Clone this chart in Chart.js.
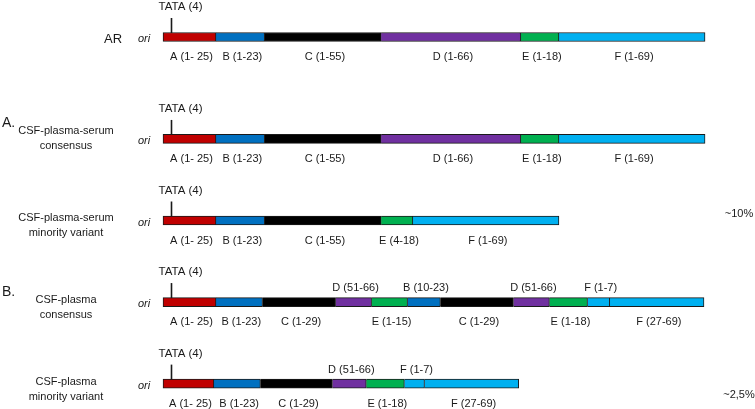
<!DOCTYPE html>
<html>
<head>
<meta charset="utf-8">
<script src="https://cdn.jsdelivr.net/npm/chart.js@4.4.0/dist/chart.umd.min.js"></script>
<style>
  html, body { margin: 0; padding: 0; background: #fff; }
  #wrap { width: 755px; height: 409px; }
</style>
</head>
<body>
<div id="wrap"><canvas id="genome" width="755" height="409"></canvas></div>
<script>
'use strict';

// ---- Data: genome segments (length in residues as drawn) ----
const arNames   = ['A', 'B', 'C', 'D', 'E', 'F'];
const arLengths = [25, 23, 55, 66, 18, 69];
const arLabels  = ['A (1- 25)', 'B (1-23)', 'C (1-55)', 'D (1-66)', 'E (1-18)', 'F (1-69)'];

const aMinNames   = ['A', 'B', 'C', 'E', 'F'];
const aMinLengths = [25, 23, 55, 15, 69];
const aMinLabels  = ['A (1- 25)', 'B (1-23)', 'C (1-55)', 'E (4-18)', 'F (1-69)'];

const bConsNames   = ['A', 'B', 'C', 'D', 'E', 'B', 'C', 'D', 'E', 'F', 'F'];
const bConsLengths = [25, 22, 34.5, 17, 17, 15.5, 34.5, 17, 18, 10.5, 44.5];
const bConsLabels  = ['A (1- 25)', 'B (1-23)', 'C (1-29)', 'D (51-66)', 'E (1-15)', 'B (10-23)',
                      'C (1-29)', 'D (51-66)', 'E (1-18)', 'F (1-7)', 'F (27-69)'];
const bConsAbove   = [0, 0, 0, 1, 0, 1, 0, 1, 0, 1, 0];

const bMinNames   = ['A', 'B', 'C', 'D', 'E', 'F', 'F'];
const bMinLengths = [24, 22, 34, 16, 18, 9.5, 44.5];
const bMinLabels  = ['A (1- 25)', 'B (1-23)', 'C (1-29)', 'D (51-66)', 'E (1-18)', 'F (1-7)', 'F (27-69)'];
const bMinAbove   = [0, 0, 0, 1, 0, 1, 0];

const tataSite = 4;
const shares   = ['', '', '~10%', '', '~2,5%'];

// ---- Segment colours ----
const SEG_COLORS = {
  A: '#c00000', B: '#0070c0', C: '#000000',
  D: '#7030a0', E: '#00b050', F: '#00b0f0',
};
const INK  = '#1a1a1a';
const FONT = "'Liberation Sans', Arial, Helvetica, sans-serif";

// ---- Rows (top to bottom) ----
const rows = [
  { key: 'ar',    title: ['AR'], names: arNames, lengths: arLengths, labels: arLabels, titleDy: 2 },
  { key: 'aCons', title: ['CSF-plasma-serum', 'consensus'], names: arNames, lengths: arLengths, labels: arLabels,
    titleDy: -8, section: 'A.', sectionDy: -16 },
  { key: 'aMin',  title: ['CSF-plasma-serum', 'minority variant'], names: aMinNames, lengths: aMinLengths,
    labels: aMinLabels, titleDy: -3, shareDy: -7 },
  { key: 'bCons', title: ['CSF-plasma', 'consensus'], names: bConsNames, lengths: bConsLengths,
    labels: bConsLabels, above: bConsAbove, titleDy: -2, section: 'B.', sectionDy: -10 },
  { key: 'bMin',  title: ['CSF-plasma', 'minority variant'], names: bMinNames, lengths: bMinLengths,
    labels: bMinLabels, above: bMinAbove, titleDy: -2, shareDy: 11 },
];

// vertical slots of the category axis (spacers between rows)
const rowSlots = [0, 5, 9, 13, 17];
const slotLabels = Array.from({ length: 19 }, (_, i) => 'slot' + i);
rowSlots.forEach((s, r) => { slotLabels[s] = rows[r].key; });

// ---- Build one floating bar per segment ----
const datasets = [];
rows.forEach((row) => {
  let start = 0;
  row.lengths.forEach((len, j) => {
    const end = start + len;
    datasets.push({
      data: [{ x: [start, end], y: row.key }],
      backgroundColor: SEG_COLORS[row.names[j]],
      borderColor: INK,
      borderWidth: { left: j === 0 ? 1 : 0, right: 1, top: 1, bottom: 1 },
      borderSkipped: false,
      barThickness: 9,
      clip: false,
    });
    start = end;
  });
});

// ---- Text annotations drawn from the scales ----
const genomeText = {
  id: 'genomeText',
  afterDatasetsDraw(chart) {
    const { ctx, scales: { x, y } } = chart;
    const x0 = x.getPixelForValue(0);
    ctx.save();
    ctx.fillStyle = INK;
    ctx.strokeStyle = INK;
    ctx.textBaseline = 'middle';

    rows.forEach((row, r) => {
      const cy = y.getPixelForValue(rowSlots[r]);

      // segment labels
      ctx.font = '11px ' + FONT;
      ctx.textAlign = 'center';
      let start = 0;
      row.lengths.forEach((len, j) => {
        const cx = (x.getPixelForValue(start) + x.getPixelForValue(start + len)) / 2 + 2;
        const up = row.above && row.above[j];
        ctx.fillText(row.labels[j], cx, up ? cy - 14 : cy + 20);
        start += len;
      });

      // TATA box marker
      const tx = x.getPixelForValue(tataSite);
      ctx.lineWidth = 1.6;
      ctx.beginPath();
      ctx.moveTo(tx, cy - 4);
      ctx.lineTo(tx, cy - 19);
      ctx.stroke();
      ctx.textAlign = 'left';
      ctx.font = '11.5px ' + FONT;
      ctx.fillText('TATA (4)', tx - 13, cy - 30);

      // ori
      ctx.font = 'italic 11px ' + FONT;
      ctx.textAlign = 'center';
      ctx.fillText('ori', x0 - 19, cy + 2);

      // row title
      if (row.title.length === 1) {
        ctx.font = '13px ' + FONT;
        ctx.fillText(row.title[0], x0 - 50, cy + row.titleDy);
      } else {
        ctx.font = '11px ' + FONT;
        row.title.forEach((line, k) => ctx.fillText(line, 66, cy + row.titleDy + k * 15));
      }

      // section letter
      if (row.section) {
        ctx.font = '14px ' + FONT;
        ctx.textAlign = 'left';
        ctx.fillText(row.section, 2, cy + row.sectionDy);
      }

      // variant share
      if (shares[r]) {
        ctx.font = '11px ' + FONT;
        ctx.textAlign = 'center';
        ctx.fillText(shares[r], 739, cy + row.shareDy);
      }
    });
    ctx.restore();
  }
};

new Chart(document.getElementById('genome'), {
  type: 'bar',
  data: { labels: slotLabels, datasets },
  options: {
    indexAxis: 'y',
    responsive: false,
    animation: false,
    grouped: false,
    layout: { padding: { top: 37, bottom: 5, left: 0, right: 0 } },
    plugins: {
      legend: { display: false },
      tooltip: { enabled: false },
    },
    scales: {
      x: { type: 'linear', min: -77, max: 279.6, display: false },
      y: { type: 'category', offset: false, display: false },
    },
  },
  plugins: [genomeText],
});
</script>
</body>
</html>
